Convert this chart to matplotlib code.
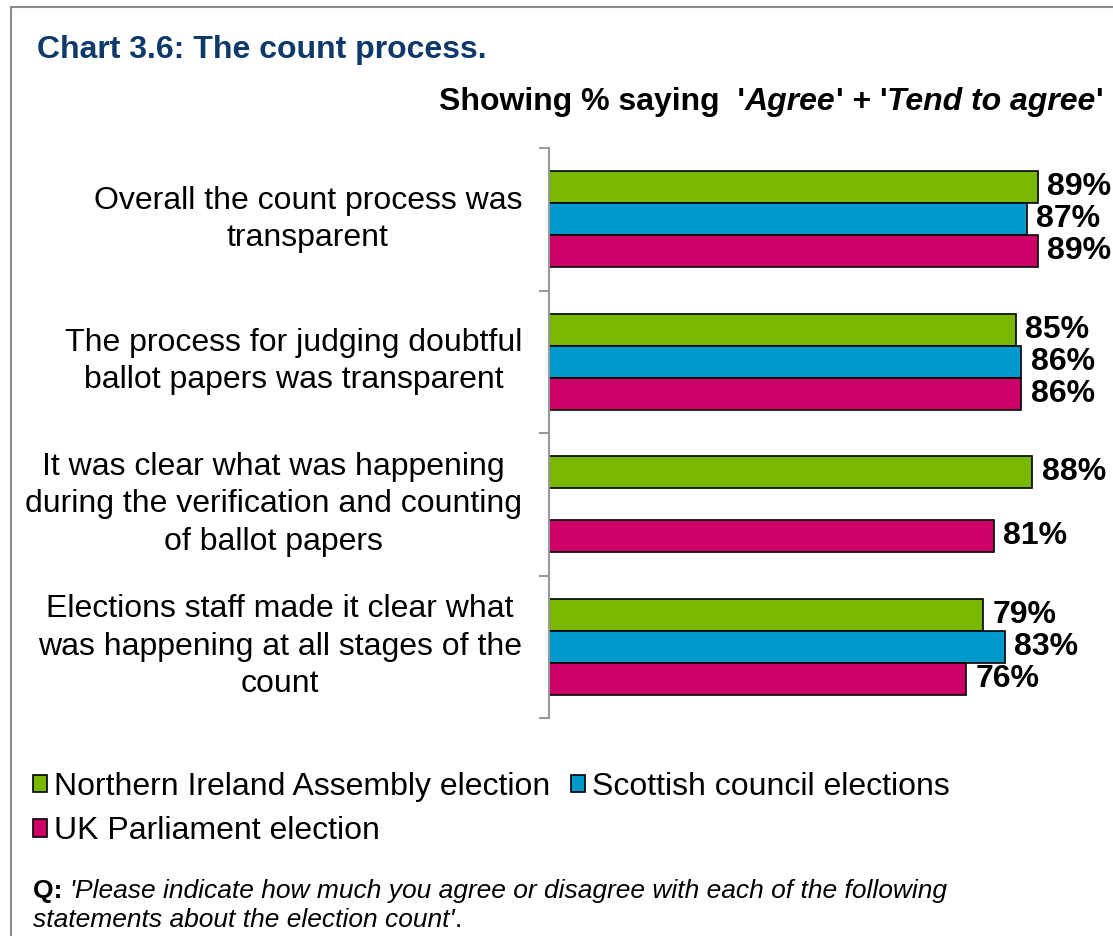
import numpy as np
import matplotlib
matplotlib.use("Agg")
import matplotlib.pyplot as plt
from matplotlib.patches import Rectangle, Patch
from matplotlib.transforms import blended_transform_factory

plt.rcParams['font.family'] = ['Liberation Sans', 'DejaVu Sans']

# data
statements = ['Overall the count process was\ntransparent',
              'The process for judging doubtful\nballot papers was transparent',
              'It was clear what was happening\nduring the verification and counting\nof ballot papers',
              'Elections staff made it clear what\nwas happening at all stages of the\ncount']
series_names = ['Northern Ireland Assembly election', 'Scottish council elections',
                'UK Parliament election']
ni_vals = [89, 85, 88, 79]
scot_vals = [87, 86, np.nan, 83]
uk_vals = [89, 86, 81, 76]
colors = ['#7ab800', '#0099cc', '#cc0066']

W, H = 1113, 936
fig = plt.figure(figsize=(W / 100, H / 100), dpi=100)

def fx(px):
    return px / W

def fy(py):
    return 1 - py / H

# grey frame
fig.add_artist(Rectangle((fx(11), -0.1), 1.2, fy(7) + 0.1, transform=fig.transFigure,
                         fill=False, edgecolor='#8c8c8c', lw=1.5))

ax = fig.add_axes([fx(549), fy(718), fx(1098) - fx(549), fy(148) - fy(718)])

y = np.arange(len(statements))
h = 0.225
for vals, off, c in zip([ni_vals, scot_vals, uk_vals], [-h, 0, h], colors):
    ax.barh(y + off, vals, height=h, color=c, edgecolor='black', linewidth=1.2)
    for yy, v in zip(y + off, vals):
        if np.isnan(v):
            continue
        ax.annotate(f'{v:.0f}%', (v, yy), xytext=(7, 0), textcoords='offset points',
                    va='center', ha='left', fontsize=23, fontweight='bold')

ax.set_xlim(0, 100)
ax.set_ylim(len(statements) - 0.5, -0.5)
for s in ['top', 'right', 'bottom']:
    ax.spines[s].set_visible(False)
ax.spines['left'].set_color('#999999')
ax.spines['left'].set_linewidth(1.5)
ax.set_xticks([])
ax.set_yticks(np.arange(-0.5, len(statements)), labels=[])
ax.tick_params(axis='y', length=7, width=1.5, color='#999999')

tr = blended_transform_factory(fig.transFigure, ax.transData)
for yy, s in zip(y, statements):
    ax.text(fx(522), yy, s, transform=tr, ha='right', va='center',
            multialignment='center', fontsize=23, linespacing=1.32)

# title
fig.text(fx(37), fy(58), 'Chart 3.6: The count process.', fontsize=23, fontweight='bold',
         color='#0e3a6b', va='baseline', ha='left')

renderer = fig.canvas.get_renderer()

def pieces(parts, x_px, y_px, align='left'):
    # draw differently styled pieces of one line side by side
    texts = []
    widths = []
    for t, kw in parts:
        tx = fig.text(0, fy(y_px), t, va='baseline', ha='left', **kw)
        widths.append(tx.get_window_extent(renderer).width)
        texts.append(tx)
    x = x_px - sum(widths) if align == 'right' else x_px
    for tx, w in zip(texts, widths):
        tx.set_x(fx(x))
        x += w

sub = dict(fontsize=23, fontweight='bold')
pieces([("Showing % saying  '", sub),
        ("Agree", dict(sub, style='italic')),
        ("' + '", sub),
        ("Tend to agree", dict(sub, style='italic')),
        ("'", sub)], 1103, 110, align='right')

# legend
handles = [Patch(facecolor=c, edgecolor='black', linewidth=1.2) for c in colors]
order = [0, 2, 1]
fig.legend([handles[i] for i in order], [series_names[i] for i in order], ncol=2,
           loc='upper left', bbox_to_anchor=(fx(33), fy(772)), frameon=False,
           fontsize=23, handlelength=0.45, handleheight=0.45, handletextpad=0.2,
           columnspacing=0.65, labelspacing=0.45, borderpad=0, borderaxespad=0)

# footnote
foot = 19
pieces([("Q: ", dict(fontsize=foot, fontweight='bold')),
        ("'Please indicate how much you agree or disagree with each of the following",
         dict(fontsize=foot, style='italic'))], 33, 898)
pieces([("statements about the election count'", dict(fontsize=foot, style='italic')),
        (".", dict(fontsize=foot))], 33, 927)

fig.savefig('out.png', dpi=100)
